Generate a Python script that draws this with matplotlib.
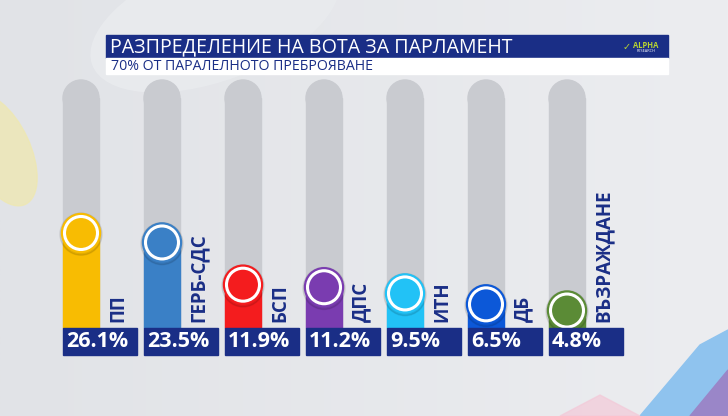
import numpy as np
import matplotlib
matplotlib.use("Agg")
import matplotlib.pyplot as plt
from matplotlib.patches import Rectangle, Ellipse, Polygon

plt.rcParams['font.family'] = ['Open Sans', 'DejaVu Sans']

# data
parties = ['ПП', 'ГЕРБ-СДС', 'БСП', 'ДПС', 'ИТН', 'ДБ', 'ВЪЗРАЖДАНЕ']
values = [26.1, 23.5, 11.9, 11.2, 9.5, 6.5, 4.8]
colors = ['#F8BC02', '#3A80C6', '#F41C1E', '#7A3CB0', '#22C2F6', '#0C58D8', '#5B8B36']
title = 'РАЗПРЕДЕЛЕНИЕ НА ВОТА ЗА ПАРЛАМЕНТ'
subtitle = '70% ОТ ПАРАЛЕЛНОТО ПРЕБРОЯВАНЕ'

navy = '#1A2E86'
track = '#C9CBD0'
bg = '#E4E6EA'

fig = plt.figure(figsize=(7.28, 4.16), dpi=100)
fig.patch.set_facecolor(bg)

# background decoration (pixel coords)
deco = fig.add_axes([0, 0, 1, 1])
deco.set_xlim(0, 728)
deco.set_ylim(416, 0)
deco.axis('off')
grad = np.linspace(0, 1, 256).reshape(1, -1)
deco.imshow(grad, extent=[0, 728, 416, 0], cmap=matplotlib.colors.LinearSegmentedColormap.from_list(
    'bg', ['#E1E3E7', '#ECEDF0']), aspect='auto', zorder=0)
deco.add_patch(Ellipse((0, 150), 60, 120, angle=-25, color='#EFE8B0', alpha=0.75, zorder=1))
deco.add_patch(Ellipse((215, 20), 260, 120, angle=-20, color='#E9EBEE', alpha=0.9, zorder=1))
deco.add_patch(Polygon([[640, 416], [700, 345], [728, 330], [728, 416]], color='#8FC3EE', zorder=1))
deco.add_patch(Polygon([[690, 416], [728, 370], [728, 416]], color='#9A86C8', zorder=1))
deco.add_patch(Polygon([[560, 416], [600, 395], [640, 416]], color='#F3C9D8', alpha=0.7, zorder=1))

# title boxes
deco.add_patch(Rectangle((106, 35), 562, 23, color=navy, zorder=3))
deco.add_patch(Rectangle((106, 58), 562, 16, color='white', zorder=3))
deco.text(110, 47, title, color='white', fontsize=14.1, va='center', ha='left', zorder=4)
deco.text(111, 66.5, subtitle, color=navy, fontsize=10.2, va='center', ha='left', zorder=4)
# logo
deco.text(646, 45, 'ALPHA', color='#B8D432', fontsize=5.5, fontweight='bold',
          va='center', ha='center', zorder=4)
deco.text(646, 51.5, 'RESEARCH', color='white', fontsize=2.8, va='center', ha='center', zorder=4)
deco.text(627, 47, '✓', color='#B8D432', fontsize=7, fontweight='bold',
          va='center', ha='center', zorder=4, family='DejaVu Sans')

# bars axes: index i centre at 81 + 81*i px, value v at 328 - 3.64*v px
ax = fig.add_axes([0, 0, 1, 1])
ax.patch.set_alpha(0)
ax.set_xlim(-1, (728 - 81) / 81)
ax.set_ylim((328 - 416) / 3.64, 328 / 3.64)
ax.axis('off')

w = 36 / 81
ky = 1 / 3.64
top = (328 - 98) / 3.64
for i, (p, v, c) in enumerate(zip(parties, values, colors)):
    ax.add_patch(Rectangle((i - w / 2, 0), w, top, color=track, zorder=2))
    ax.add_patch(Ellipse((i, top), w, 36 * ky, color=track, zorder=2))
    ax.add_patch(Rectangle((i - w / 2, 0), w, v, color=c, zorder=3))
    ax.add_patch(Ellipse((i, v - 1.2 * ky), 42 / 81, 42 * ky, color='#00000018', zorder=3.5))
    ax.add_patch(Ellipse((i, v), 39 / 81, 39 * ky, color=c, zorder=4))
    ax.add_patch(Ellipse((i, v), 33 / 81, 33 * ky, facecolor=c, edgecolor='white',
                         lw=2.2, zorder=5))
    # value box
    ax.add_patch(Rectangle((i - w / 2, -27 * ky), 74 / 81, 27 * ky, color=navy, zorder=6))
    ax.text(i - w / 2 + 3 / 81, -13.5 * ky, f'{v:.1f}%', color='white', fontsize=15.5,
            fontweight='bold', va='center', ha='left', zorder=7)
    ax.text(i + 37 / 81, 6 * ky, p, color=navy, fontsize=13.5, fontweight='bold',
            rotation=90, va='bottom', ha='center', zorder=7)

fig.savefig('out.png', dpi=100, facecolor=fig.get_facecolor())
